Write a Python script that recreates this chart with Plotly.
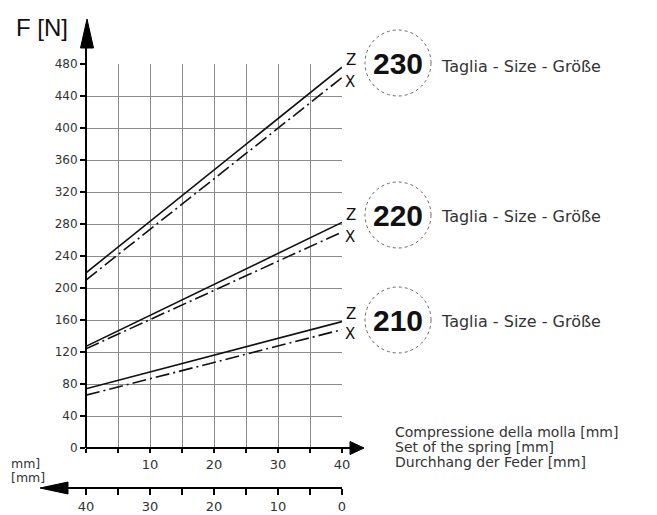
import plotly.graph_objects as go

# ---------------- data ----------------
set_mm = [0, 40]                      # compression of the spring [mm]
sizes = ["230", "220", "210"]
z_start = [219, 127, 74]              # force at 0 mm, curve Z [N]
z_end = [476, 282, 158]               # force at 40 mm, curve Z [N]
x_start = [210, 124, 66]              # force at 0 mm, curve X [N]
x_end = [463, 270, 148]               # force at 40 mm, curve X [N]

y_ticks = list(range(0, 481, 40))
x_ticks = list(range(0, 41, 5))
x_tick_text = [str(v) if (v % 10 == 0 and v > 0) else "" for v in x_ticks]
x2_tick_text = [str(v) if v % 10 == 0 else "" for v in x_ticks]

axis_text = ["Compressione della molla [mm]", "Set of the spring [mm]",
             "Durchhang der Feder [mm]"]
size_text = "Taglia - Size - Größe"

# ---------------- layout geometry ----------------
# page body has an 8px margin; figure sized to fit the 657x515 window
OFF = 8
W, H = 657 - OFF, 515 - OFF
ML, MR, MT, MB = 86 - OFF, 315, 64 - OFF, 27
PW, PH = W - ML - MR, H - MT - MB


def px(x):  # screen px -> paper
    return (x - OFF - ML) / PW


def py(y):
    return (H - MB - (y - OFF)) / PH


Y0 = py(448)  # bottom of y domain (paper)


def dy(v):
    return Y0 + v / 480 * (1 - Y0)


def dx(v):
    return v / 40


SMALL = "DejaVu Sans"
BIG = "Liberation Sans"
TXT = "#333333"

fig = go.Figure()
for i, s in enumerate(sizes):
    fig.add_trace(go.Scatter(x=set_mm, y=[z_start[i], z_end[i]], mode="lines",
                             line=dict(color="#111111", width=1.6),
                             name=f"{s} Z", showlegend=False, hoverinfo="skip"))
    fig.add_trace(go.Scatter(x=set_mm, y=[x_start[i], x_end[i]], mode="lines",
                             line=dict(color="#111111", width=1.6, dash="14px,4px,2px,4px"),
                             name=f"{s} X", showlegend=False, hoverinfo="skip"))

# invisible trace for second axis
fig.add_trace(go.Scatter(x=[0, 40], y=[0, 0], xaxis="x2", mode="lines",
                         line=dict(width=0), showlegend=False, hoverinfo="skip"))

shapes = []
K = dict(xref="paper", yref="paper")
# axes lines
shapes.append(dict(type="line", x0=px(86), x1=px(86), y0=py(448), y1=py(46),
                   line=dict(color="black", width=2), **K))
shapes.append(dict(type="path",
                   path=f"M {px(87)} {py(19)} L {px(80.5)} {py(48)} L {px(93.5)} {py(48)} Z",
                   fillcolor="black", line=dict(color="black", width=1), **K))
shapes.append(dict(type="line", x0=px(86), x1=px(352), y0=py(448), y1=py(448),
                   line=dict(color="black", width=2), **K))
shapes.append(dict(type="path",
                   path=f"M {px(364)} {py(448)} L {px(350)} {py(441.5)} L {px(350)} {py(454.5)} Z",
                   fillcolor="black", line=dict(color="black", width=1), **K))
shapes.append(dict(type="line", x0=px(64), x1=px(342), y0=py(488), y1=py(488),
                   line=dict(color="black", width=2), **K))
shapes.append(dict(type="path",
                   path=f"M {px(40)} {py(488)} L {px(68)} {py(482)} L {px(68)} {py(494)} Z",
                   fillcolor="black", line=dict(color="black", width=1), **K))

# size circles
centers = [(398, 63), (398, 215), (398, 320)]
label_y = [66, 217, 322]
for (cx, cy) in centers:
    shapes.append(dict(type="circle", x0=px(cx - 33), x1=px(cx + 33),
                       y0=py(cy + 33), y1=py(cy - 33),
                       line=dict(color="#666666", width=1, dash="dot"), **K))

C = dict(xanchor="center", yanchor="middle", showarrow=False)
ann = []
ann.append(dict(text="F [N]", x=px(42), y=py(27),
                font=dict(family=BIG, size=24, color="#111111"), **C, **K))
for i, s in enumerate(sizes):
    cx, cy = centers[i]
    ann.append(dict(text=f"<b>{s}</b>", x=px(cx), y=py(cy),
                    font=dict(family=BIG, size=30, color="#111111"), **C, **K))
    ann.append(dict(text=size_text, x=px(439), y=py(label_y[i]), xanchor="left",
                    yanchor="middle", showarrow=False,
                    font=dict(family=SMALL, size=16, color=TXT), **K))
    ann.append(dict(text="Z", x=dx(41.4), y=dy(z_end[i] + 9),
                    font=dict(family=SMALL, size=15, color="#111111"), **C, **K))
    ann.append(dict(text="X", x=dx(41.3), y=dy(x_end[i] - 6),
                    font=dict(family=SMALL, size=15, color="#111111"), **C, **K))

for j, t in enumerate(axis_text):
    ann.append(dict(text=t, x=px(393), y=py(432 + 15 * j), xanchor="left",
                    yanchor="middle", showarrow=False,
                    font=dict(family=SMALL, size=14, color=TXT), **K))
ann.append(dict(text="mm]", x=px(9), y=py(463), xanchor="left", yanchor="middle",
                showarrow=False, font=dict(family=SMALL, size=12.5, color=TXT), **K))
ann.append(dict(text="[mm]", x=px(9), y=py(477), xanchor="left", yanchor="middle",
                showarrow=False, font=dict(family=SMALL, size=12.5, color=TXT), **K))

fig.update_layout(
    width=W, height=H,
    margin=dict(l=ML, r=MR, t=MT, b=MB, pad=0),
    paper_bgcolor="white", plot_bgcolor="white",
    showlegend=False,
    shapes=shapes, annotations=ann,
    xaxis=dict(range=[0, 40], domain=[0, 1], anchor="y",
               tickvals=x_ticks, ticktext=x_tick_text,
               ticks="outside", ticklen=4, tickcolor="black", tickwidth=1.5,
               showgrid=True, gridcolor="#8c8c8c", gridwidth=1,
               showline=False, zeroline=False, automargin=False,
               tickfont=dict(family=SMALL, size=13, color=TXT)),
    xaxis2=dict(range=[40, 0], domain=[0, 1], anchor="free", position=0,
                overlaying="x", side="bottom",
                tickvals=x_ticks, ticktext=x2_tick_text,
                ticks="outside", ticklen=6, tickcolor="black", tickwidth=1.5,
                showgrid=False, showline=False, zeroline=False, automargin=False,
                tickfont=dict(family=SMALL, size=13, color=TXT)),
    yaxis=dict(range=[0, 480], domain=[Y0, 1], anchor="x",
               tickvals=y_ticks, ticks="outside", ticklen=5, tickcolor="black",
               tickwidth=1.5,
               showgrid=True, gridcolor="#8c8c8c", gridwidth=1,
               showline=False, zeroline=False, automargin=False,
               tickfont=dict(family=SMALL, size=12, color=TXT)),
)

fig.write_html("out.html")
